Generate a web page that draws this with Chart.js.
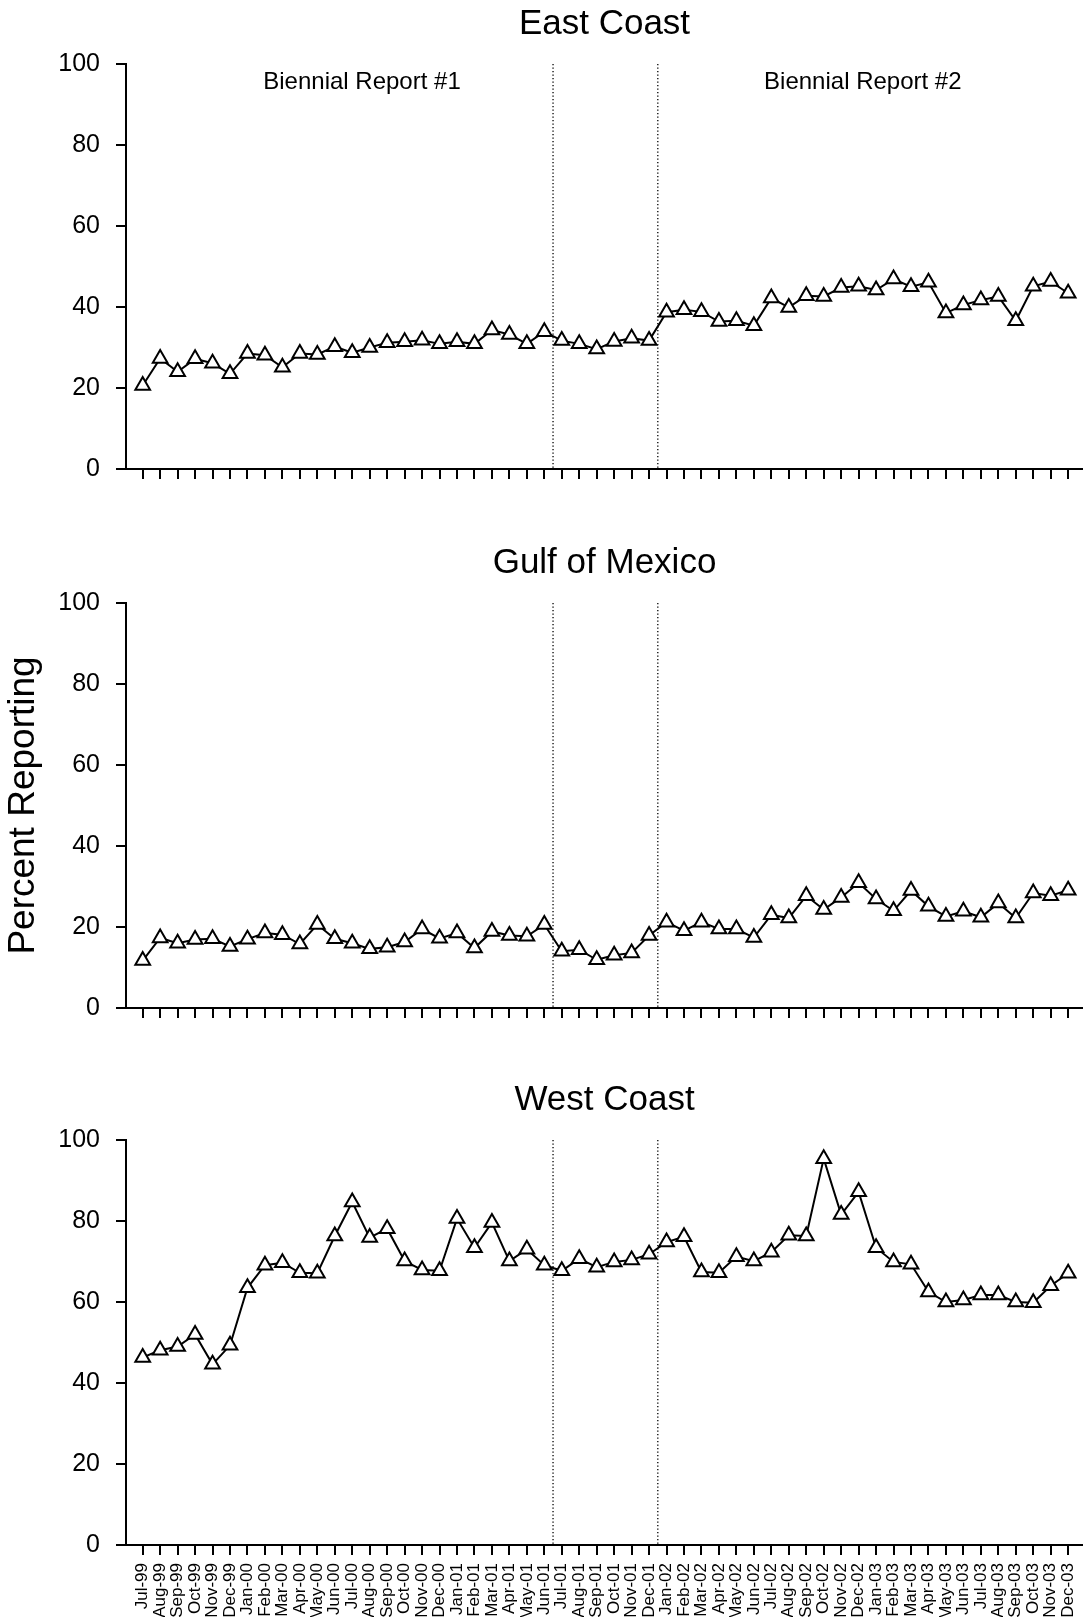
<!DOCTYPE html>
<html>
<head>
<meta charset="utf-8">
<script src="https://cdn.jsdelivr.net/npm/chart.js@4.4.1/dist/chart.umd.min.js"></script>
<style>
    html, body { margin: 0; padding: 0; background: #fff; overflow: hidden; }
    .panel { position: absolute; left: 0; }
</style>
</head>
<body>
<div class="panel" style="top:0px"><canvas id="east-chart" width="1083" height="503"></canvas></div>
<div class="panel" style="top:539px"><canvas id="gulf-chart" width="1083" height="503"></canvas></div>
<div class="panel" style="top:1076px"><canvas id="west-chart" width="1083" height="541"></canvas></div>
<script>
// months on the x axis
const months = [
    'Jul-99', 'Aug-99', 'Sep-99', 'Oct-99', 'Nov-99', 'Dec-99',
    'Jan-00', 'Feb-00', 'Mar-00', 'Apr-00', 'May-00', 'Jun-00',
    'Jul-00', 'Aug-00', 'Sep-00', 'Oct-00', 'Nov-00', 'Dec-00',
    'Jan-01', 'Feb-01', 'Mar-01', 'Apr-01', 'May-01', 'Jun-01',
    'Jul-01', 'Aug-01', 'Sep-01', 'Oct-01', 'Nov-01', 'Dec-01',
    'Jan-02', 'Feb-02', 'Mar-02', 'Apr-02', 'May-02', 'Jun-02',
    'Jul-02', 'Aug-02', 'Sep-02', 'Oct-02', 'Nov-02', 'Dec-02',
    'Jan-03', 'Feb-03', 'Mar-03', 'Apr-03', 'May-03', 'Jun-03',
    'Jul-03', 'Aug-03', 'Sep-03', 'Oct-03', 'Nov-03', 'Dec-03'
];

// percent reporting, per region
const eastCoast = [
    20.6, 27.3, 24.0, 27.2, 26.1, 23.5, 28.5, 28.1, 25.1, 28.5, 28.3, 30.2,
    28.7, 30.0, 31.2, 31.4, 31.8, 30.9, 31.4, 30.9, 34.3, 33.2, 30.9, 33.9,
    31.7, 30.9, 29.6, 31.5, 32.3, 31.7, 38.7, 39.3, 38.8, 36.4, 36.6, 35.4,
    42.2, 39.9, 42.8, 42.6, 44.8, 45.1, 44.2, 46.9, 45.0, 46.1, 38.5, 40.5,
    41.7, 42.6, 36.6, 45.1, 46.3, 43.4
];
const gulfOfMexico = [
    11.7, 17.3, 16.0, 16.9, 17.1, 15.2, 17.0, 18.5, 18.1, 15.8, 20.6, 17.1,
    16.0, 14.6, 15.0, 16.3, 19.5, 17.2, 18.5, 14.8, 18.9, 17.9, 17.7, 20.6,
    14.0, 14.4, 11.9, 13.0, 13.6, 17.9, 21.2, 19.1, 21.2, 19.5, 19.5, 17.4,
    23.0, 22.2, 27.7, 24.3, 27.3, 30.9, 26.9, 24.0, 29.0, 25.1, 22.6, 23.9,
    22.4, 25.9, 22.2, 28.4, 27.7, 29.1
];
const westCoast = [
    46.3, 48.1, 49.0, 52.0, 44.6, 49.3, 63.5, 69.1, 69.7, 67.2, 67.1, 76.3,
    84.7, 75.9, 78.1, 70.1, 67.9, 67.7, 80.6, 73.4, 79.6, 70.1, 73.0, 69.1,
    67.7, 70.7, 68.6, 69.9, 70.4, 71.8, 74.8, 76.1, 67.4, 67.2, 71.2, 70.1,
    72.3, 76.5, 76.3, 95.4, 81.6, 87.2, 73.4, 69.9, 69.3, 62.5, 60.0, 60.5,
    61.7, 61.7, 60.0, 59.8, 64.0, 67.1
];

// report periods (dividers sit between Jun-01/Jul-01 and Dec-01/Jan-02)
const reportNames = ['Biennial Report #1', 'Biennial Report #2'];
const dividerAfter = ['Jun-01', 'Dec-01'];

const FONT = '"Liberation Sans", Arial, Helvetica, sans-serif';

// dotted dividers + report labels
const reportPlugin = {
    id: 'reportPeriods',
    beforeDatasetsDraw(chart, args, opts) {
        const { ctx } = chart;
        const x = chart.scales.x;
        const y = chart.scales.y;
        ctx.save();
        ctx.strokeStyle = '#000';
        ctx.lineWidth = 1.3;
        ctx.setLineDash([1.3, 2.2]);
        dividerAfter.forEach(m => {
            const px = x.getPixelForValue(months.indexOf(m) + 0.5);
            ctx.beginPath();
            ctx.moveTo(px, y.getPixelForValue(100));
            ctx.lineTo(px, y.getPixelForValue(0));
            ctx.stroke();
        });
        ctx.setLineDash([]);
        if (opts.showNames) {
            ctx.fillStyle = '#000';
            ctx.font = '24px ' + FONT;
            ctx.textAlign = 'center';
            ctx.textBaseline = 'alphabetic';
            reportNames.forEach((name, i) => {
                ctx.fillText(name, x.getPixelForValue(opts.nameX[i]), y.getPixelForValue(opts.nameY));
            });
        }
        ctx.restore();
    }
};

function makePanel(id, title, values, opts) {
    const ctx = document.getElementById(id).getContext('2d');
    return new Chart(ctx, {
        type: 'line',
        data: {
            datasets: [{
                label: title,
                data: values.map((v, i) => ({ x: i, y: v })),
                borderColor: '#000',
                borderWidth: 2,
                tension: 0,
                pointStyle: 'triangle',
                pointRadius: 8.5,
                pointHoverRadius: 8.5,
                pointBackgroundColor: '#fff',
                pointBorderColor: '#000',
                pointBorderWidth: 2
            }]
        },
        options: {
            responsive: false,
            animation: false,
            events: [],
            layout: { padding: 0, autoPadding: false },
            plugins: {
                legend: { display: false },
                tooltip: { enabled: false },
                title: {
                    display: true,
                    text: title,
                    fullSize: false,
                    color: '#000',
                    font: { family: FONT, size: 35, weight: 'normal' },
                    padding: { top: 3, bottom: 19 }
                },
                reportPeriods: {
                    showNames: !!opts.showNames,
                    nameX: [12.56, 41.24],
                    nameY: 93.8
                }
            },
            scales: {
                x: {
                    type: 'linear',
                    min: -0.956,
                    max: 53.85,
                    afterBuildTicks: axis => {
                        axis.ticks = months.map((m, i) => ({ value: i }));
                    },
                    afterFit: axis => {
                        // fixed axis height, and keep the axis running to the right edge
                        axis.height = opts.xHeight;
                        axis.paddingLeft = 0;
                        axis.paddingRight = 0;
                    },
                    ticks: {
                        display: !!opts.showMonths,
                        autoSkip: false,
                        minRotation: 90,
                        maxRotation: 90,
                        padding: 8,
                        color: '#000',
                        font: { family: FONT, size: 17 },
                        callback: v => months[v]
                    },
                    grid: {
                        drawOnChartArea: false,
                        drawTicks: true,
                        tickLength: 10,
                        color: '#000',
                        lineWidth: 2
                    },
                    border: { color: '#000', width: 2 }
                },
                y: {
                    min: 0,
                    max: 100,
                    afterFit: axis => { axis.width = 126; },
                    ticks: {
                        stepSize: 20,
                        padding: 16,
                        color: '#000',
                        font: { family: FONT, size: 25 }
                    },
                    grid: {
                        drawOnChartArea: false,
                        drawTicks: true,
                        tickLength: 10,
                        color: '#000',
                        lineWidth: 2
                    },
                    border: { color: '#000', width: 2 },
                    title: {
                        display: !!opts.yTitle,
                        text: 'Percent Reporting',
                        color: '#000',
                        font: { family: FONT, size: 37, weight: 'normal' },
                        padding: { top: 2, bottom: 0 }
                    }
                }
            }
        },
        plugins: [reportPlugin]
    });
}

makePanel('east-chart', 'East Coast', eastCoast, { showNames: true, xHeight: 34 });
makePanel('gulf-chart', 'Gulf of Mexico', gulfOfMexico, { yTitle: true, xHeight: 34 });
makePanel('west-chart', 'West Coast', westCoast, { showMonths: true, xHeight: 72 });
</script>
</body>
</html>
